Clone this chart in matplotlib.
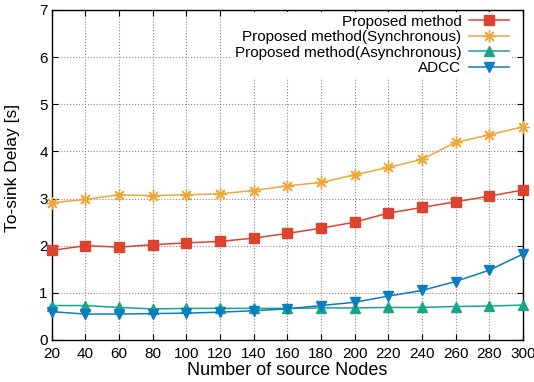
import numpy as np
import matplotlib
matplotlib.use('Agg')
import matplotlib.pyplot as plt

plt.rcParams['font.family'] = ['Liberation Sans', 'DejaVu Sans']
plt.rcParams['font.size'] = 11

nodes = [20, 40, 60, 80, 100, 120, 140, 160, 180, 200, 220, 240, 260, 280, 300]
proposed = [1.90, 2.00, 1.97, 2.02, 2.06, 2.09, 2.16, 2.26, 2.37, 2.50, 2.69, 2.81, 2.93, 3.05, 3.18]
sync = [2.91, 2.98, 3.08, 3.06, 3.08, 3.10, 3.17, 3.27, 3.34, 3.50, 3.66, 3.83, 4.19, 4.35, 4.52]
async_ = [0.73, 0.73, 0.69, 0.66, 0.67, 0.67, 0.67, 0.67, 0.68, 0.68, 0.69, 0.69, 0.71, 0.72, 0.74]
adcc = [0.60, 0.55, 0.55, 0.56, 0.57, 0.59, 0.62, 0.66, 0.73, 0.80, 0.93, 1.05, 1.24, 1.48, 1.82]

fig = plt.figure(figsize=(5.34, 3.82), dpi=100)
ax = fig.add_axes([0.097, 0.11, 0.882, 0.864])

ax.plot(nodes, proposed, color='#dd4430', marker='s', markersize=7, lw=1.1,
        label='Proposed method', clip_on=False, zorder=5)
ax.plot(nodes, sync, color='#eea83a', marker=(8, 2, 0), markersize=9, mew=1.0, lw=1.1,
        label='Proposed method(Synchronous)', clip_on=False, zorder=5)
ax.plot(nodes, async_, color='#16a589', marker='^', markersize=7, lw=1.1,
        label='Proposed method(Asynchronous)', clip_on=False, zorder=5)
ax.plot(nodes, adcc, color='#0b7dc1', marker='v', markersize=7, lw=1.1,
        label='ADCC', clip_on=False, zorder=5)

ax.set_xlim(20, 300)
ax.set_ylim(0, 7)
ax.set_xticks(nodes)
ax.set_yticks(range(0, 8))
ax.tick_params(direction='in', top=True, right=True, length=4)
ax.tick_params(axis='x', pad=5)
ax.tick_params(axis='y', pad=3)
ax.grid(True, color='#888888', linestyle=':', linewidth=0.8)
for s in ax.spines.values():
    s.set_linewidth(1.0)

ax.set_xlabel('Number of source Nodes', fontsize=13)
ax.xaxis.set_label_coords(0.5, -0.066)
ax.set_ylabel('To-sink Delay [s]', fontsize=12.5)
ax.yaxis.set_label_coords(-0.068, 0.52)

leg = ax.legend(loc='upper right', bbox_to_anchor=(0.977, 0.995), markerfirst=False,
                frameon=True, fancybox=False, handlelength=2.6, labelspacing=0.1,
                borderpad=0.2, borderaxespad=0.0, handletextpad=0.5, fontsize=11)
leg.get_frame().set_edgecolor('none')
leg.get_frame().set_alpha(1.0)
leg.set_zorder(10)
for t in leg.get_texts():
    t.set_ha('right')

fig.savefig('out.png', dpi=100)
